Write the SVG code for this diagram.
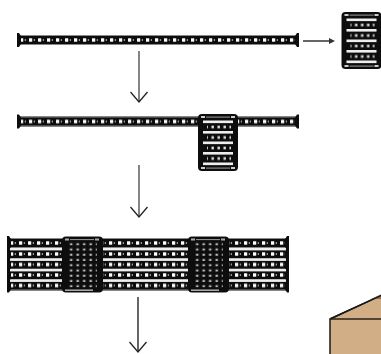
<svg xmlns="http://www.w3.org/2000/svg" width="381" height="354" viewBox="0 0 381 354">
<style>
.bar{fill:#111}
.edge{fill:#888}
.wire{stroke:#666;stroke-width:1.600;fill:none}
.head{stroke:#222;stroke-width:1.300;fill:none}
.slat{fill:#eee}
.box{fill:#d2ae86;stroke:#1a1a1a;stroke-width:1.500}
</style>
<defs>
<filter id="soft" x="-5%" y="-20%" width="110%" height="140%"><feGaussianBlur stdDeviation="0.4"/></filter>
<pattern id="dots" x="0" y="-5" width="9" height="10" patternUnits="userSpaceOnUse">
<rect x="2" y="3.300" width="3.200" height="3.400" fill="#fff"/><rect x="6.800" y="4" width="1.200" height="2" fill="#999"/>
</pattern>
<pattern id="mdots" x="0" y="-2.300" width="6" height="10.500" patternUnits="userSpaceOnUse">
<rect x="1.500" y="3.500" width="2.400" height="2.600" fill="#ddd"/>
</pattern>
<pattern id="bdots" x="0" y="0" width="6.500" height="5.250" patternUnits="userSpaceOnUse">
<rect x="1.500" y="1.500" width="2.400" height="2" fill="#bbb"/>
</pattern>
<g id="strip">
<rect class="bar" x="0" y="-5" width="280" height="10"/>
<rect class="edge" x="2" y="-5" width="276" height="1"/>
<rect class="edge" x="2" y="4" width="276" height="1"/>
<rect x="3" y="-5" width="274" height="10" fill="url(#dots)"/>
<path class="bar" d="M-1-7H1L3-4V4L1 7H-1ZM281-7H279L277-4V4L279 7H281Z"/>
</g>
<g id="module">
<rect class="bar" x="0" y="0" width="40" height="57" rx="4"/>
<rect x="8" y="2.600" width="24" height="1" fill="#999"/>
<rect x="3" y="2" width="4" height="2" fill="#ccc"/><rect x="33" y="2" width="4" height="2" fill="#ccc"/>
<rect x="3" y="53" width="4" height="2" fill="#ccc"/><rect x="33" y="53" width="4" height="2" fill="#ccc"/>
<rect x="8" y="53.600" width="24" height="1" fill="#999"/>
<rect class="slat" x="5" y="6.500" width="30" height="2.600"/>
<rect class="slat" x="5" y="17" width="30" height="2.600"/>
<rect class="slat" x="5" y="27.500" width="30" height="2.600"/>
<rect class="slat" x="5" y="38" width="30" height="2.600"/>
<rect class="slat" x="5" y="48.500" width="30" height="2.600"/>
<rect x="9" y="9.500" width="24" height="39" fill="url(#mdots)"/>
</g>
<g id="block">
<rect class="bar" x="0" y="0" width="41" height="56" rx="4"/>
<rect x="8" y="2.600" width="24" height="1" fill="#999"/>
<rect x="3" y="2" width="4" height="2" fill="#aaa"/><rect x="33" y="2" width="4" height="2" fill="#aaa"/>
<rect x="3" y="53" width="28" height="1.400" fill="#bbb"/>
<rect x="7" y="5" width="28" height="46" fill="url(#bdots)"/>
</g>
<path id="down" class="head" d="M-8.500-10L0 0L8.500-10"/>
</defs>
<g id="connectors">
<path class="wire" d="M139 51V101"/><use href="#down" x="139" y="102"/>
<path class="wire" d="M139 165V216"/><use href="#down" x="139" y="217"/>
<path class="wire" style="stroke-width:2" d="M138 297V351"/><use href="#down" x="138" y="352"/>
<path d="M303 41H333" stroke="#333" stroke-width="1.500"/><path d="M329 38L335 41L329 44Z" fill="#333"/>
</g>
<g id="strip-single" filter="url(#soft)"><use href="#strip" x="18" y="40"/></g>
<g id="module-single" filter="url(#soft)"><use href="#module" x="341.500" y="12"/></g>
<g id="strip-with-module" filter="url(#soft)"><use href="#strip" x="18" y="121.500"/><use href="#module" x="198" y="114"/></g>
<g id="stack" filter="url(#soft)">
<use href="#strip" x="8" y="243"/><use href="#strip" x="8" y="254"/><use href="#strip" x="8" y="264.500"/><use href="#strip" x="8" y="275"/><use href="#strip" x="8" y="285.500"/>
<rect class="slat" x="10" y="248" width="276" height="2.400"/>
<rect class="slat" x="10" y="258.500" width="276" height="2.400"/>
<rect class="slat" x="10" y="269" width="276" height="2.400"/>
<rect class="slat" x="10" y="279.500" width="276" height="2.400"/>
<use href="#block" x="62" y="236.500"/><use href="#block" x="188" y="236.500"/>
</g>
<g id="box">
<path class="box" d="M330 319L382 295V356H330Z"/>
<path d="M371 299L382 294V299Z" fill="#8a6f50"/>
<path d="M330 319L382 295" stroke="#1a1a1a" stroke-width="1.500" fill="none"/>
<path d="M330 319H382" stroke="#2a2018" stroke-width="1.500" fill="none"/>
</g>
</svg>
